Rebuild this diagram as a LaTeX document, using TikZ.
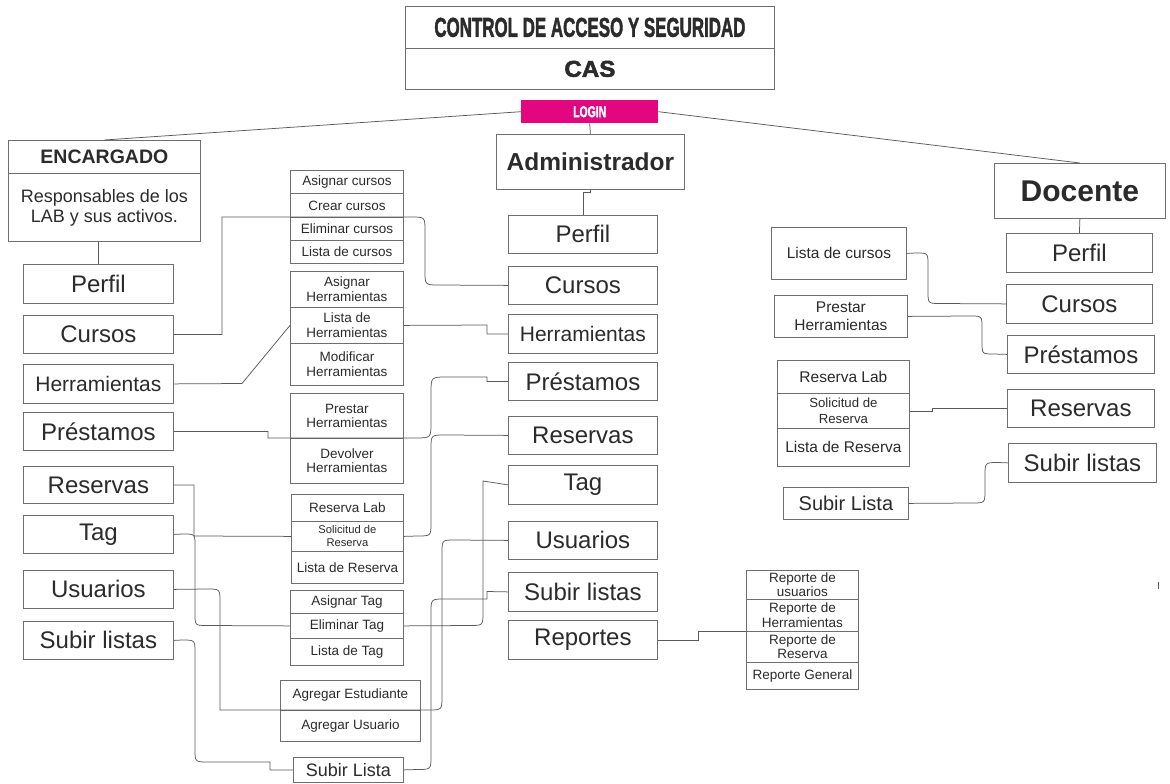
\documentclass[tikz,border=0pt]{standalone}
\usepackage{fontspec}
\setmainfont{Liberation Sans}
\newfontfamily\heavyfont{Liberation Sans}[BoldFeatures={FakeBold=2.2}]
\usepackage{graphicx}
\usetikzlibrary{calc}

\definecolor{edge}{HTML}{6E6E6E}
\definecolor{wire}{HTML}{5A5A5A}
\definecolor{ink}{HTML}{2B2B2B}
\definecolor{loginpink}{HTML}{E2067F}

\tikzset{
  box/.style={draw=edge, line width=0.8pt, inner sep=0pt, align=center, text=ink},
  wire/.style={draw=wire, line width=0.75pt},
  fbig/.style={font=\fontsize{24}{28}\selectfont},
  ftool/.style={font=\fontsize{21}{24}\selectfont},
  fsub/.style={font=\fontsize{13.5}{14.5}\selectfont},
  fsmall/.style={font=\fontsize{11.2}{13}\selectfont},
  fdoc/.style={font=\fontsize{15.5}{17.5}\selectfont},
  fdocs/.style={font=\fontsize{13.2}{15.5}\selectfont},
  flist/.style={font=\fontsize{18}{21}\selectfont},
  fdlist/.style={font=\fontsize{20}{23}\selectfont},
  fdesc/.style={font=\fontsize{18}{20}\selectfont},
  fenc/.style={font=\fontsize{19.5}{22}\selectfont\bfseries},
  fadm/.style={font=\fontsize{24.5}{28}\selectfont\bfseries},
  fdoct/.style={font=\fontsize{30}{34}\selectfont\bfseries},
  fhead/.style={font=\heavyfont\bfseries},
}

% box by its corners: name, left, top, right, bottom, style, text
\newcommand\bxnode[7]{%
  \node[box,#6,anchor=north west,minimum width={#4pt-#2pt},minimum height={#5pt-#3pt}] (#1) at (#2,#3) {#7};}

\begin{document}
\begin{tikzpicture}[x=1pt,y=-1pt]
\useasboundingbox (0,0) rectangle (1170,784);
\fill[white] (0,0) rectangle (1170,784);

% ---- header ----
\bxnode{ctl}{405}{6}{774}{48}{fhead}{\resizebox{311pt}{19pt}{CONTROL DE ACCESO Y SEGURIDAD}}
\bxnode{cas}{405}{48}{774}{89}{fhead}{\resizebox{51pt}{16pt}{CAS}}
\node[fill=loginpink, anchor=north west, minimum width=137pt, minimum height=23pt,
      inner sep=0pt, text=white, fhead] (login) at (521,100) {\resizebox{33pt}{11pt}{LOGIN}};

% ---- roles ----
\bxnode{enc}{8}{140}{200}{173}{fenc}{ENCARGADO}
\bxnode{encd}{8}{173}{200}{241}{fdesc}{Responsables de los\\LAB y sus activos.}
\bxnode{adm}{496}{134}{684}{189}{fadm}{Administrador}
\bxnode{doc}{994}{163}{1165}{218}{fdoct}{Docente}

% ---- encargado menu ----
\bxnode{pe}{23}{264}{173}{303}{fbig}{Perfil}
\bxnode{ce}{23}{315}{173}{353}{fbig}{Cursos}
\bxnode{he}{23}{364}{173}{403}{ftool}{Herramientas}
\bxnode{pre}{23}{412}{173}{450}{fbig}{Préstamos}
\bxnode{re}{23}{466}{173}{503}{fbig}{Reservas}
\bxnode{te}{23}{515}{173}{553}{fbig}{Tag}
\bxnode{ue}{23}{570}{173}{608}{fbig}{Usuarios}
\bxnode{se}{23}{621}{173}{659}{fbig}{Subir listas}

% ---- administrador menu ----
\bxnode{pa}{508}{215}{657}{253}{fbig}{Perfil}
\bxnode{ca}{508}{266}{657}{304}{fbig}{Cursos}
\bxnode{ha}{508}{314}{657}{353}{ftool}{Herramientas}
\bxnode{pra}{508}{362}{657}{400}{fbig}{Préstamos}
\bxnode{ra}{508}{416}{657}{454}{fbig}{Reservas}
\bxnode{ta}{508}{465}{657}{504}{fbig}{Tag}
\bxnode{ua}{508}{521}{657}{559}{fbig}{Usuarios}
\bxnode{sa}{508}{572}{657}{611}{fbig}{Subir listas}
\bxnode{rpa}{508}{620}{657}{659}{fbig}{Reportes}

% ---- shared sub-options ----
\bxnode{cu1}{290}{170}{403}{193}{fsub}{Asignar cursos}
\bxnode{cu2}{290}{193}{403}{217}{fsub}{Crear cursos}
\bxnode{cu3}{290}{217}{403}{240}{fsub}{Eliminar cursos}
\bxnode{cu4}{290}{240}{403}{263}{fsub}{Lista de cursos}

\bxnode{th1}{290}{271}{403}{307}{fsub}{Asignar\\Herramientas}
\bxnode{th2}{290}{307}{403}{343}{fsub}{Lista de\\Herramientas}
\bxnode{th3}{290}{343}{403}{385}{fsub}{Modificar\\Herramientas}

\bxnode{lo1}{290}{393}{403}{438}{fsub}{Prestar\\Herramientas}
\bxnode{lo2}{290}{438}{403}{483}{fsub}{Devolver\\Herramientas}

\bxnode{rs1}{291}{494}{403}{521}{fsub}{Reserva Lab}
\bxnode{rs2}{291}{521}{403}{551}{fsmall}{Solicitud de\\Reserva}
\bxnode{rs3}{291}{551}{403}{583}{fsub}{Lista de Reserva}

\bxnode{tg1}{290}{590}{403}{613}{fsub}{Asignar Tag}
\bxnode{tg2}{290}{613}{403}{638}{fsub}{Eliminar Tag}
\bxnode{tg3}{290}{638}{403}{665}{fsub}{Lista de Tag}

\bxnode{us1}{280}{680}{420}{710}{fsub}{Agregar Estudiante}
\bxnode{us2}{280}{710}{420}{741}{fsub}{Agregar Usuario}

\bxnode{sl}{293}{757}{403}{782}{flist}{Subir Lista}

\bxnode{rp1}{746}{570}{858}{599}{fsub}{Reporte de\\usuarios}
\bxnode{rp2}{746}{599}{858}{631}{fsub}{Reporte de\\Herramientas}
\bxnode{rp3}{746}{631}{858}{662}{fsub}{Reporte de\\Reserva}
\bxnode{rp4}{746}{662}{858}{689}{fsub}{Reporte General}

% ---- docente menu ----
\bxnode{pd}{1006}{233}{1152}{272}{fbig}{Perfil}
\bxnode{cd}{1006}{284}{1152}{323}{fbig}{Cursos}
\bxnode{prd}{1007}{335}{1154}{373}{fbig}{Préstamos}
\bxnode{rd}{1007}{389}{1154}{427}{fbig}{Reservas}
\bxnode{sd}{1008}{443}{1156}{482}{fbig}{Subir listas}

\bxnode{lc}{771}{227}{906}{279}{fdoc}{Lista de cursos}
\bxnode{ph}{774}{295}{907}{337}{fdoc}{Prestar\\Herramientas}
\bxnode{dr1}{777}{360}{909}{393}{fdoc}{Reserva Lab}
\bxnode{dr2}{777}{393}{909}{428}{fdocs}{Solicitud de\\Reserva}
\bxnode{dr3}{777}{428}{909}{466}{fdoc}{Lista de Reserva}
\bxnode{dsl}{783}{487}{908}{519}{fdlist}{Subir Lista}

% ---- login to roles ----
\draw[wire] (login.west) -- (enc.north);
\draw[wire] (login.east) -- (doc.north);
\draw[wire] (login.south) -- (adm.north);
\draw[wire] (pe.north) -- (pe.north |- encd.south);
\draw[wire] (adm.south) -- ++(0,3) -| (pa.north);
\draw[wire] (doc.south) -- (pd.north);

% ---- encargado / administrador links ----
\draw[wire] (ce.east) -| (222,217) -- (411,217) .. controls (425,217) .. (425,231)
  -- (425,271) .. controls (425,285) .. (439,285) -- (ca.west);
\draw[wire] (he.east) -- (242,383.5) -- (th2.west);
\draw[wire] (th2.east) -- (487,325) |- (ha.west);
\draw[wire] (pre.east) -| (268,438) -- (415,438) .. controls (431,438) .. (431,422)
  -- (431,393) .. controls (431,377) .. (447,377) -- (487,377) |- (pra.west);
\draw[wire] (re.east) -| (194,536) -- (rs2.west);
\draw[wire] (ra.west) -- (445,435) .. controls (431,435) .. (431,449)
  -- (431,523) .. controls (431,536) .. (417,536) -- (rs2.east);
\draw[wire] (te.east) -- (183,534) .. controls (195,534) .. (195,546)
  -- (195,613.5) .. controls (195,625.5) .. (207,625.5) -- (tg2.west);
\draw[wire] (ta.west) -- (483,481) -- (483,612) .. controls (483,625.5) .. (470,625.5) -- (tg2.east);
\draw[wire] (ue.east) -- (207,589) .. controls (220,589) .. (220,602) -- (220,710)
  -- (428,710) .. controls (442,710) .. (442,696) -- (442,553) .. controls (442,540) .. (455,540) -- (ua.west);
\draw[wire] (se.east) -- (182,640) .. controls (195,640) .. (195,653) -- (195,749)
  .. controls (195,762) .. (208,762) -- (270,762) |- (sl.west);
\draw[wire] (sa.west) -- (487,591.5) -- (487,599) -- (445,599) .. controls (431,599) .. (431,613)
  -- (431,756) .. controls (431,769.5) .. (417,769.5) -- (sl.east);
\draw[wire] (rpa.east) -| (698,631) -- (rp3.north west);

% ---- docente links ----
\draw[wire] (lc.east) -- (916,253) .. controls (928,253) .. (928,265) -- (928,291)
  .. controls (928,303.5) .. (940,303.5) -- (cd.west);
\draw[wire] (ph.east) -- (970,316) .. controls (982,316) .. (982,328) -- (982,342)
  .. controls (982,354) .. (994,354) -- (prd.west);
\draw[wire] (dr2.east) -- ++(23,0) |- (rd.west);
\draw[wire] (dsl.east) -- (972,503) .. controls (985,503) .. (985,490) -- (985,476)
  .. controls (985,462.5) .. (998,462.5) -- (sd.west);

% small stray mark at the right margin
\draw[wire, line width=0.6pt] (1158,582) -- (1158,589);
\end{tikzpicture}
\end{document}
